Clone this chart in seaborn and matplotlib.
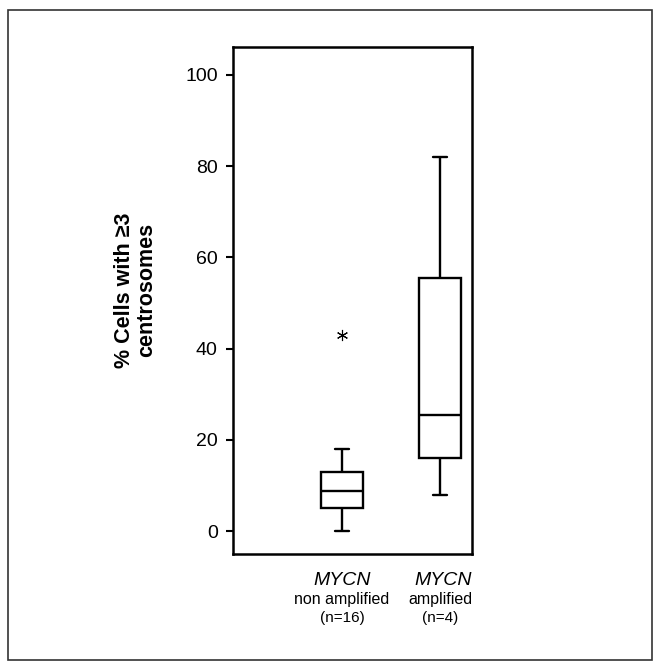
import matplotlib
matplotlib.use('Agg')
import matplotlib.pyplot as plt
from matplotlib.patches import Rectangle
import seaborn as sns
import pandas as pd

# values (per-sample % cells with >=3 centrosomes)
non_amplified = [0, 2, 4, 5, 5, 6, 7, 8.6, 9.0, 10, 12, 13, 13, 15, 18, 43]
amplified = [8, 16, 25.5, 55.5, 82]
groups = ["non amplified", "amplified"]
n_labels = ["(n=16)", "(n=4)"]
y_ticks = [0, 20, 40, 60, 80, 100]

df = pd.DataFrame({
    "Group": [groups[0]] * len(non_amplified) + [groups[1]] * len(amplified),
    "Value": non_amplified + amplified,
})

sns.set_style("white")
plt.rcParams['font.family'] = ['Liberation Sans', 'DejaVu Sans']
plt.rcParams['text.color'] = 'black'
plt.rcParams['ytick.color'] = 'black'
plt.rcParams['axes.labelcolor'] = 'black'

fig = plt.figure(figsize=(6.61, 6.69), dpi=100)
ax = fig.add_axes([233 / 661, 1 - 554 / 669, (472 - 233) / 661, (554 - 47) / 669])

sns.boxplot(data=df, x="Group", y="Value", order=groups, ax=ax,
            color="white", linecolor="black", linewidth=1.7, width=0.43,
            saturation=1, capwidths=0.14,
            flierprops=dict(marker=(6, 2, 0), markersize=8, markeredgecolor="black",
                            markeredgewidth=0.8))

ax.set_xlim(-1.112, 1.327)
ax.set_ylim(-5.0, 106.1)
ax.set_yticks(y_ticks)
ax.tick_params(axis='y', direction='out', length=5, width=1.5, labelsize=14,
               left=True, pad=6, colors='black')
ax.set_xticks([])
ax.set_xlabel("")
ax.set_ylabel("% Cells with ≥3\ncentrosomes", fontsize=15.5, fontweight='bold',
              labelpad=20, linespacing=1.1)
ax.yaxis.label.set_y(0.52)
for s in ax.spines.values():
    s.set_visible(True)
    s.set_color("black")
    s.set_linewidth(1.8)

# category labels under the axis
trans = ax.get_xaxis_transform()
for i, (g, n) in enumerate(zip(groups, n_labels)):
    ax.text(i + 0.03 * i, -0.035, "MYCN", transform=trans, ha='center', va='top',
            fontsize=14, style='italic')
    ax.text(i, -0.075, g, transform=trans, ha='center', va='top', fontsize=11.5)
    ax.text(i, -0.113, n, transform=trans, ha='center', va='top', fontsize=11)

# thin frame around the whole figure
fig.patches.append(Rectangle((8 / 661, 1 - 660 / 669), (652 - 8) / 661, (660 - 10) / 669,
                             transform=fig.transFigure, fill=False,
                             edgecolor="#333333", linewidth=1.2))

fig.savefig("out.png", dpi=100)
